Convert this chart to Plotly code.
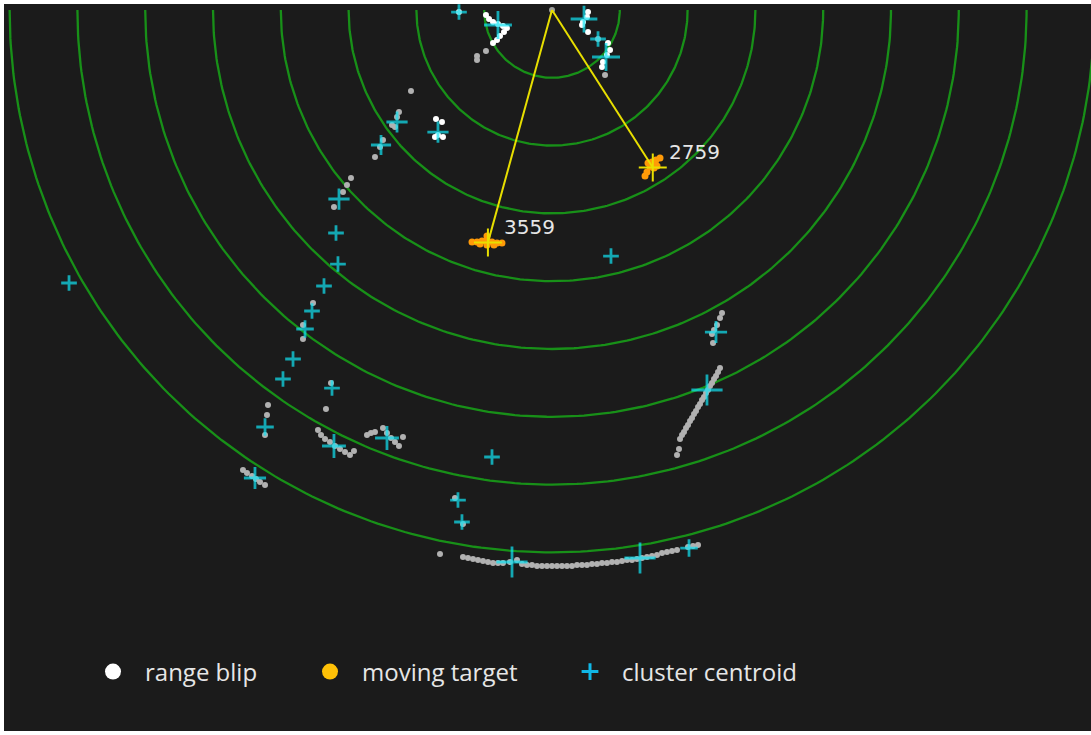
import numpy as np
import plotly.graph_objects as go

# ---------------- data (millimetres, x to the right, y = forward range) ----------------
ring_ranges_mm = [1000, 2000, 3000, 4000, 5000, 6000, 7000, 8000]

# range blips: x, y (mm) and echo amplitude (0..1)
blip_x_mm = [
    0, -1372,
    -974, -929, -870, -797, -723, -664, -708, -767, -811, -870,
    -974, -1106, -1106,
    531, 516, 457, 443, 531,
    679,
    826, 856, 811, 752, 738, 782,
    -2080,
    -2257, -2286, -2360, -2316,
    -1711, -1623, -1682, -1608, -1726,
    -2493, -2537, -2611,
    -2965, -3024, -3083, -3216,
    -3525, -3673, -3673, -3260,
    -4189, -4204, -4233, -3334,
    -3452, -3407, -3348, -3275, -3201, -3127, -3053, -2980, -2921,
    -2729, -2670, -2611, -2493, -2434, -2375, -2316, -2257, -2198,
    -4558, -4499, -4425, -4366, -4307, -4233,
    -1431, -1313, -1652,
    -1313, -1239, -1165, -1092, -1018, -944, -870, -797, -723, -620, -516,
    -443, -369, -295, -221, -148, -74, 0, 74, 148, 221, 295,
    369, 443, 516, 590, 664, 738, 811, 885, 959, 1033, 1106, 1180,
    1254, 1328, 1401, 1475, 1549, 1623, 1696, 1770, 1844,
    2006, 2080, 2154,
    2508, 2478, 2434, 2390, 2360, 2375,
    2478, 2449, 2419, 2390, 2360, 2331, 2301, 2272, 2242, 2213, 2183,
    2154, 2124, 2095, 2065, 2036, 2006, 1977, 1947, 1918, 1888, 1873, 1844,
]
blip_y_mm = [
    0, 30,
    74, 133, 177, 207, 236, 266, 325, 384, 443, 487,
    605, 679, 738,
    30, 103, 177, 221, 325,
    428,
    487, 590, 664, 767, 841, 959,
    1195,
    1505, 1578, 1696, 1726,
    1608, 1652, 1844, 1873, 1873,
    1918, 2021, 2168,
    2478, 2581, 2685, 2906,
    4322, 4646, 4853, 5502,
    5826, 5974, 6269, 5885,
    6195, 6269, 6328, 6372, 6431, 6475, 6520, 6564, 6505,
    6269, 6239, 6225, 6166, 6239, 6313, 6372, 6431, 6298,
    6785, 6829, 6874, 6918, 6962, 7006,
    7198, 7582, 8024,
    8068, 8083, 8098, 8113, 8127, 8142, 8157, 8157, 8157, 8142, 8113,
    8172, 8186, 8186, 8201, 8201, 8201, 8201, 8201, 8201, 8201, 8201,
    8186, 8186, 8186, 8172, 8172, 8157, 8157, 8142, 8142, 8127, 8113, 8113,
    8098, 8083, 8068, 8054, 8039, 8009, 7995, 7980, 7965,
    7921, 7906, 7891,
    4469, 4543, 4646, 4720, 4779, 4912,
    5281, 5340, 5399, 5443, 5502, 5546, 5605, 5649, 5708, 5753, 5812,
    5856, 5915, 5959, 6018, 6062, 6121, 6166, 6225, 6269, 6328, 6475, 6564,
]
blip_amp = (
    [0.5, 0.9]
    + [1.0] * 10
    + [0.6] * 3
    + [1.0] * 5
    + [0.6]
    + [1.0] * 5 + [0.6]
    + [0.6]
    + [0.6] * 4
    + [1.0] * 5
    + [0.6] * (len(blip_x_mm) - 37)
)

# cluster centroids: x, y (mm) and number of blips in cluster
centroid_x_mm = [-1372, -797, 472, 679, 797, -2286, -1682, -2522, -3142, -3186,
                 -3157, -3363, -3540, -3643, -3820, -3968, -3245, -4233, -3216, -2434,
                 -4381, -7124, 870, -885, -1387, -1328, -590, 1298, 2021, 2419, 2286]
centroid_y_mm = [30, 221, 133, 428, 693, 1652, 1800, 1991, 2788, 3289,
                 3747, 4071, 4440, 4705, 5148, 5443, 5576, 6151, 6431, 6313,
                 6903, 4027, 3629, 6593, 7228, 7552, 8142, 8083, 7936, 4750, 5605]
centroid_n = [1, 14, 12, 1, 14, 5, 5, 4, 5, 1,
              1, 1, 1, 2, 1, 1, 1, 2, 8, 8,
              6, 1, 1, 1, 1, 1, 20, 20, 2, 6, 20]

# moving targets
target_range_mm = [3559, 2759]
target_bearing_deg = [-15.4, 32.6]
target_blip_x_mm = [-1180, -1106, -1033, -959, -885, -811, -738, -959, -1062, -856, -959,
                    1416, 1475, 1534, 1593, 1446, 1505, 1401, 1372, 1549]
target_blip_y_mm = [3422, 3422, 3407, 3393, 3422, 3437, 3437, 3466, 3452, 3466, 3334,
                    2257, 2242, 2213, 2183, 2316, 2331, 2390, 2449, 2301]

legend_labels = ["range blip", "moving target", "cluster centroid"]

# ---------------- styling ----------------
BG = "#1b1b1b"
GREEN = "#189018"
YELLOW = "#e8df00"
CYAN = "#12e4f4"
ORANGE = "#ff9a08"
TEXT = "#e6e6e6"

fig = go.Figure()

# range rings (lower half circles)
theta = np.radians(np.linspace(-90, 90, 241))
rx, ry = [], []
for r in ring_ranges_mm:
    rx += list(r * np.sin(theta)) + [None]
    ry += list(r * np.cos(theta)) + [None]
fig.add_trace(go.Scatter(x=rx, y=ry, mode="lines", line=dict(color=GREEN, width=2.3),
                         hoverinfo="skip", showlegend=False))

# target geometry
tb = np.radians(target_bearing_deg)
tx = [r * np.sin(b) for r, b in zip(target_range_mm, tb)]
ty = [r * np.cos(b) for r, b in zip(target_range_mm, tb)]

# range blips
fig.add_trace(go.Scatter(
    x=blip_x_mm, y=blip_y_mm, mode="markers",
    marker=dict(symbol="circle", size=6, color=blip_amp, cmin=0, cmax=1,
                colorscale=[[0, "#3c3c3c"], [1, "#ffffff"]], line=dict(width=0)),
    showlegend=False, hoverinfo="skip"))

# target blips
fig.add_trace(go.Scatter(
    x=target_blip_x_mm, y=target_blip_y_mm, mode="markers",
    marker=dict(symbol="circle", size=7, color=ORANGE, line=dict(width=0)),
    showlegend=False, hoverinfo="skip"))

# lines from sensor to moving targets
lx, ly = [], []
for x, y in zip(tx, ty):
    lx += [0, x, None]
    ly += [0, y, None]
fig.add_trace(go.Scatter(x=lx, y=ly, mode="lines", line=dict(color=YELLOW, width=2),
                         showlegend=False, hoverinfo="skip"))
fig.add_trace(go.Scatter(x=tx, y=ty, mode="markers",
                         marker=dict(symbol="cross-thin", size=20, line=dict(color=YELLOW, width=2)),
                         showlegend=False, hoverinfo="skip"))

# cluster centroids
fig.add_trace(go.Scatter(
    x=centroid_x_mm, y=centroid_y_mm, mode="markers",
    marker=dict(symbol="cross-thin", size=[8 + 3.2 * np.sqrt(n) for n in centroid_n],
                line=dict(color=CYAN, width=2.8)),
    showlegend=False, hoverinfo="skip"))

# target range labels
for x, y, r in zip(tx, ty, target_range_mm):
    fig.add_annotation(x=x, y=y, text=str(r), showarrow=False, xanchor="left", yanchor="middle",
                       xshift=14, yshift=16, font=dict(family="DejaVu Sans", size=20, color=TEXT))

# legend entries
fig.add_trace(go.Scatter(x=[None], y=[None], mode="markers", name=legend_labels[0],
                         marker=dict(symbol="circle", size=18, color="#ffffff"), legendwidth=148))
fig.add_trace(go.Scatter(x=[None], y=[None], mode="markers", name=legend_labels[1],
                         marker=dict(symbol="circle", size=18, color="#ffc107"), legendwidth=191))
fig.add_trace(go.Scatter(x=[None], y=[None], mode="markers", name=legend_labels[2],
                         marker=dict(symbol="cross-thin", size=12, line=dict(color="#10b8e8", width=3)),
                         legendwidth=200))

W, H = 1091, 735
ml, mr, mt, mb = 4, 0, 4, 4
mm_per_px = 14.75
pw, ph = W - ml - mr, H - mt - mb
x0 = -(552 - ml) * mm_per_px
y0 = -(10 - mt) * mm_per_px

fig.update_layout(
    width=W, height=H,
    margin=dict(l=ml, r=mr, t=mt, b=mb, pad=0),
    paper_bgcolor="white", plot_bgcolor=BG,
    xaxis=dict(range=[x0, x0 + pw * mm_per_px], visible=False, fixedrange=True),
    yaxis=dict(range=[y0 + ph * mm_per_px, y0], visible=False, fixedrange=True),
    showlegend=True,
    legend=dict(orientation="h", x=(81 - ml) / pw, xanchor="left",
                y=(H - mb - 672) / ph, yanchor="middle",
                itemwidth=54, bgcolor="rgba(0,0,0,0)",
                font=dict(family="Open Sans", size=24, color=TEXT)),
)

fig.write_html("out.html")
